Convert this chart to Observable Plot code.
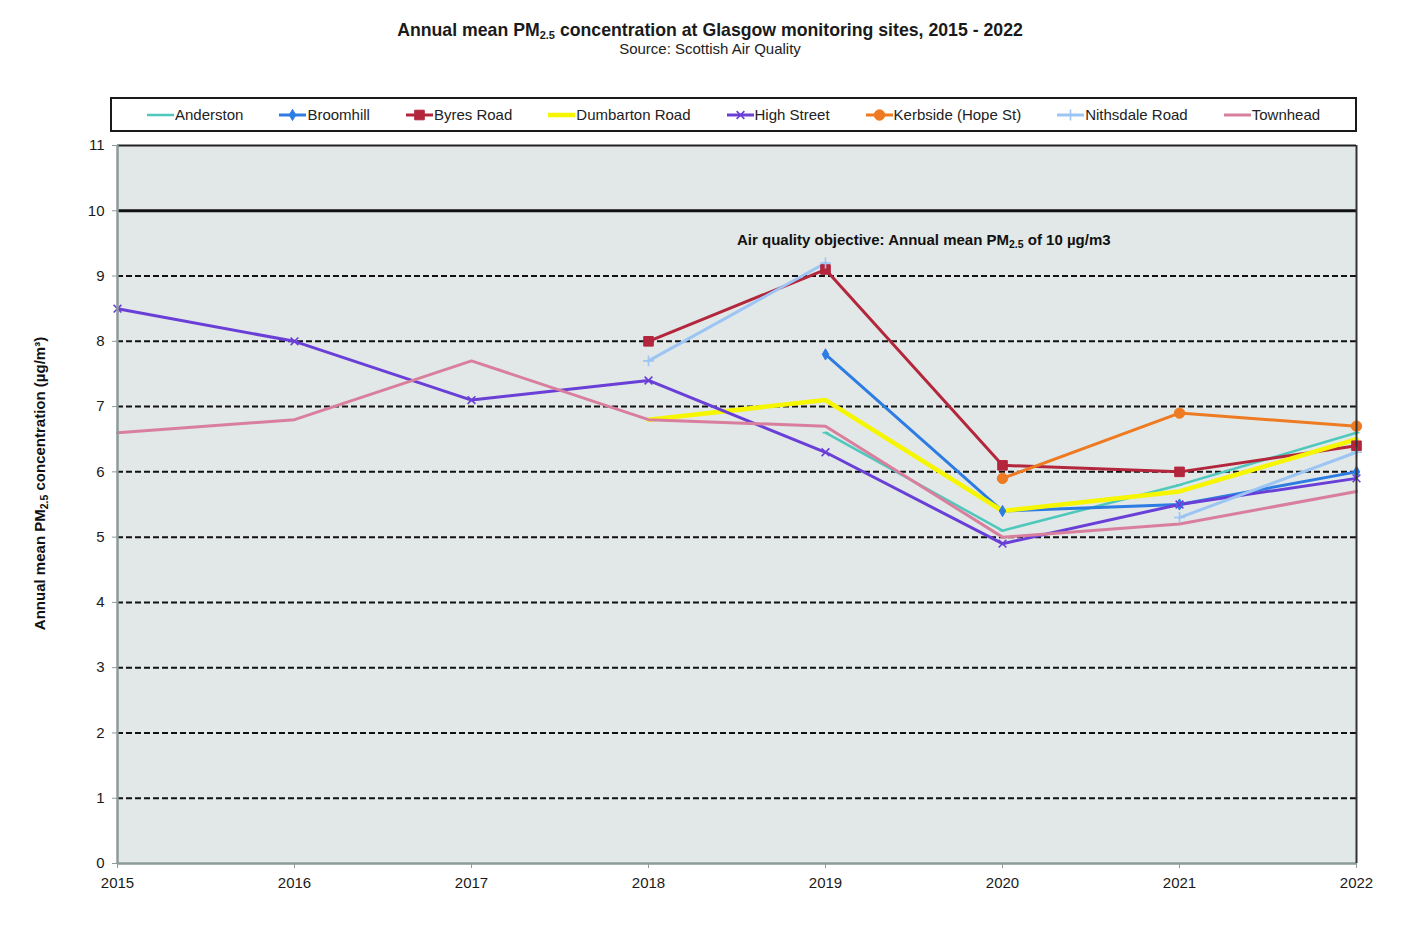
<!DOCTYPE html>
<html>
<head>
<meta charset="utf-8">
<script src="https://cdn.jsdelivr.net/npm/d3@7"></script>
<script src="https://cdn.jsdelivr.net/npm/@observablehq/plot@0.6"></script>
<style>
  html, body { margin: 0; padding: 0; background: #ffffff; }
  body { width: 1417px; height: 931px; position: relative; font-family: "Liberation Sans", Arial, sans-serif; color: #1a1a1a; overflow: hidden; }
  #title { position: absolute; top: 20px; left: 0; width: 1417px; padding-left: 3px; box-sizing: border-box; text-align: center; font-size: 17.7px; font-weight: bold; line-height: 20px; }
  #title sub { font-size: 11px; vertical-align: -3px; line-height: 0; }
  #subtitle { position: absolute; top: 41px; left: 0; width: 1417px; padding-left: 3px; box-sizing: border-box; text-align: center; font-size: 15px; line-height: 16px; color: #222; }
  #legend { position: absolute; top: 97px; left: 110px; width: 1247px; height: 35px; box-sizing: border-box; border: 2px solid #1a1a1a; background: #fff; display: flex; align-items: center; padding-left: 35px; gap: 36px; font-size: 15px; color: #222; }
  .item { display: flex; align-items: center; white-space: nowrap; }
  .item svg { margin-right: 1px; }
  #chart { position: absolute; top: 130px; left: 0; }
</style>
</head>
<body>
<div id="title">Annual mean PM<sub>2.5</sub> concentration at Glasgow monitoring sites, 2015 - 2022</div>
<div id="subtitle">Source: Scottish Air Quality</div>
<div id="legend"></div>
<div id="chart"></div>
<script>
// Annual mean PM2.5 (µg/m³) by monitoring site; null = no measurement that year
const years = [2015, 2016, 2017, 2018, 2019, 2020, 2021, 2022];
const sites = ["Anderston", "Broomhill", "Byres Road", "Dumbarton Road", "High Street", "Kerbside (Hope St)", "Nithsdale Road", "Townhead"];
const anderston     = [null, null, null, null, 6.6, 5.1, 5.8, 6.6];
const broomhill     = [null, null, null, null, 7.8, 5.4, 5.5, 6.0];
const byresRoad     = [null, null, null, 8.0, 9.1, 6.1, 6.0, 6.4];
const dumbartonRoad = [null, null, null, 6.8, 7.1, 5.4, 5.7, 6.5];
const highStreet    = [8.5, 8.0, 7.1, 7.4, 6.3, 4.9, 5.5, 5.9];
const kerbside      = [null, null, null, null, null, 5.9, 6.9, 6.7];
const nithsdaleRoad = [null, null, null, 7.7, 9.2, null, 5.3, 6.3];
const townhead      = [6.6, 6.8, 7.7, 6.8, 6.7, 5.0, 5.2, 5.7];
const seriesValues = [anderston, broomhill, byresRoad, dumbartonRoad, highStreet, kerbside, nithsdaleRoad, townhead];

const yTicks = [0, 1, 2, 3, 4, 5, 6, 7, 8, 9, 10, 11];
const dashedGrid = [1, 2, 3, 4, 5, 6, 7, 8, 9];
const objectiveValue = 10;
const yLabel = "Annual mean PM2.5 concentration (µg/m³)";
const objectiveNote = ["Air quality objective: Annual mean PM2.5 of 10 µg/m3"];

// A short horizontal dash marker
const dashSymbol = {
  draw(context, size) {
    const r = Math.sqrt(size / Math.PI);
    context.moveTo(-r, 0);
    context.lineTo(r, 0);
  }
};

// Line colour, width and marker for each site
const siteStyle = {
  "Anderston":          {color: "#4ec8bc", width: 2.5, symbol: dashSymbol, r: 3, filled: false},
  "Broomhill":          {color: "#2d7ce3", width: 3,   symbol: "diamond", r: 3.4, filled: true},
  "Byres Road":         {color: "#b3263c", width: 3,   symbol: "square", r: 5.4, filled: true},
  "Dumbarton Road":     {color: "#f6f600", width: 4.5, symbol: null},
  "High Street":        {color: "#6a3fd7", width: 3,   symbol: "times", r: 3.6, filled: false},
  "Kerbside (Hope St)": {color: "#ee7a22", width: 3,   symbol: "circle", r: 5.2, filled: true},
  "Nithsdale Road":     {color: "#9dc5f4", width: 3,   symbol: "plus", r: 3.6, filled: false},
  "Townhead":           {color: "#d97f9d", width: 3,   symbol: null}
};

const rows = sites.flatMap((site, i) =>
  years.map((year, j) => ({site, year, value: seriesValues[i][j]}))
);

const lineMarks = sites.map(site => {
  const s = siteStyle[site];
  return Plot.line(rows.filter(d => d.site === site), {
    x: "year", y: "value", stroke: s.color, strokeWidth: s.width, curve: "linear"
  });
});

const dotMarks = sites.filter(site => siteStyle[site].symbol).map(site => {
  const s = siteStyle[site];
  return Plot.dot(rows.filter(d => d.site === site && d.value != null), {
    x: "year", y: "value", symbol: s.symbol, r: s.r,
    fill: s.filled ? s.color : "none", stroke: s.color, strokeWidth: s.filled ? 1 : 1.6
  });
});

const axisGrey = "#8b9b98";

const chart = Plot.plot({
  width: 1417,
  height: 801,
  marginTop: 15,
  marginBottom: 68,
  marginLeft: 117,
  marginRight: 61,
  style: {fontFamily: "'Liberation Sans', Arial, sans-serif", fontSize: "15px", color: "#1a1a1a", background: "transparent"},
  x: {domain: [2015, 2022]},
  y: {domain: [0, 11]},
  marks: [
    Plot.frame({fill: "#e1e8e7", stroke: null}),
    Plot.ruleY(dashedGrid, {stroke: "#111", strokeWidth: 2, strokeDasharray: "6,3"}),
    Plot.ruleY([objectiveValue], {stroke: "#111", strokeWidth: 3}),
    Plot.ruleY([yTicks[yTicks.length - 1]], {stroke: "#222", strokeWidth: 2}),
    ...lineMarks,
    ...dotMarks,
    Plot.ruleX([years[0]], {stroke: axisGrey, strokeWidth: 2.5}),
    Plot.ruleY([0], {stroke: axisGrey, strokeWidth: 2.5}),
    Plot.ruleX([years[years.length - 1]], {stroke: "#333", strokeWidth: 2}),
    Plot.axisY({ticks: yTicks, tickSize: 5, tickPadding: 8, stroke: axisGrey, fill: "#1a1a1a", label: null, fontSize: 15}),
    Plot.axisX({ticks: years, tickFormat: d => String(d), tickSize: 5, tickPadding: 9, stroke: axisGrey, fill: "#1a1a1a", label: null, fontSize: 15}),
    Plot.text(objectiveNote, {x: 2018.5, y: 9.55, text: d => d, textAnchor: "start", fontWeight: "bold", fontSize: 15, fill: "#111"}),
    Plot.text([yLabel], {frameAnchor: "left", text: d => d, rotate: -90, textAnchor: "middle", dx: -77, dy: -21, fontWeight: "bold", fontSize: 15, fill: "#111"})
  ]
});

// Set the "2.5" of PM2.5 as a subscript
chart.querySelectorAll("text").forEach(t => {
  const s = t.textContent;
  if (!s.includes("PM2.5") || t.querySelector("tspan")) return;
  const [before, after] = s.split("PM2.5");
  t.textContent = "";
  const ns = "http://www.w3.org/2000/svg";
  const a = document.createElementNS(ns, "tspan"); a.textContent = before + "PM"; t.appendChild(a);
  const b = document.createElementNS(ns, "tspan"); b.textContent = "2.5"; b.setAttribute("font-size", "10.5"); b.setAttribute("dy", "3"); t.appendChild(b);
  const c = document.createElementNS(ns, "tspan"); c.textContent = after; c.setAttribute("dy", "-3"); t.appendChild(c);
});

document.getElementById("chart").appendChild(chart);

// Legend: line swatch with marker, then site name
const legend = d3.select("#legend");
sites.forEach(site => {
  const s = siteStyle[site];
  const item = legend.append("div").attr("class", "item");
  const sw = item.append("svg").attr("width", 27).attr("height", 14);
  sw.append("line").attr("x1", 0).attr("x2", 27).attr("y1", 7).attr("y2", 7)
    .attr("stroke", s.color).attr("stroke-width", s.width);
  if (s.symbol) {
    const type = typeof s.symbol === "string"
      ? {square: d3.symbolSquare, diamond: d3.symbolDiamond, circle: d3.symbolCircle, times: d3.symbolTimes, plus: d3.symbolPlus}[s.symbol]
      : s.symbol;
    sw.append("path").attr("transform", "translate(13.5,7)")
      .attr("d", d3.symbol(type, Math.PI * s.r * s.r)())
      .attr("fill", s.filled ? s.color : "none").attr("stroke", s.color).attr("stroke-width", s.filled ? 1 : 1.6);
  }
  item.append("span").text(site);
});
</script>
</body>
</html>
